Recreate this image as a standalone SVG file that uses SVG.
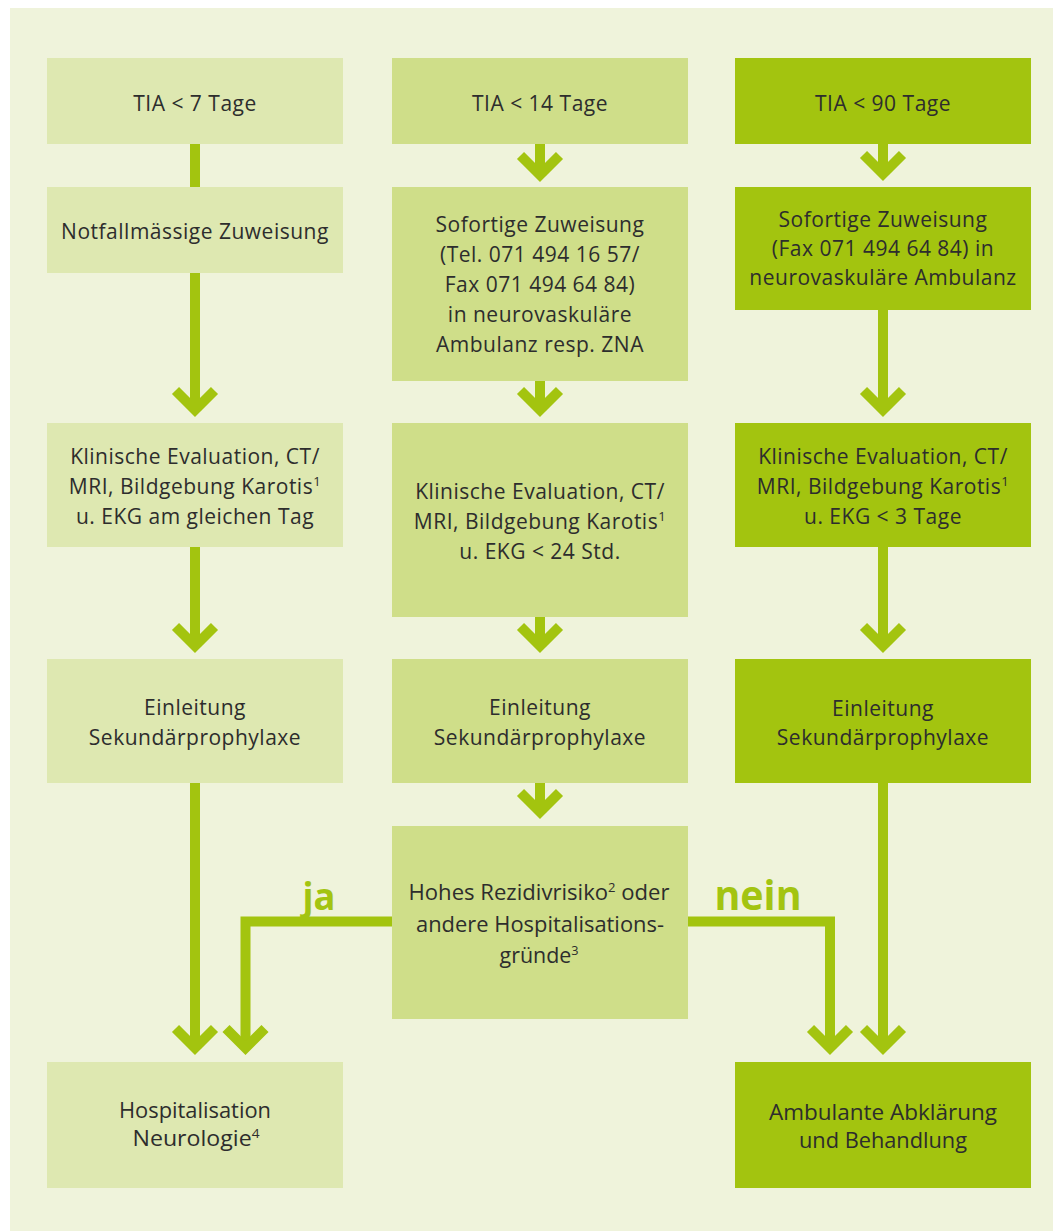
<svg xmlns="http://www.w3.org/2000/svg" width="1053" height="1231" viewBox="0 0 1053 1231">
<style>
.l{fill:#dee8b1}.m{fill:#cfde89}.d{fill:#a3c40f}
text{font-family:"Open Sans","Noto Sans",sans-serif;font-size:21px;fill:#2d2d2d;text-anchor:middle;letter-spacing:0.5px}
text.c{letter-spacing:0;font-size:22px}
text.lab{font-weight:bold;fill:#a3c411;letter-spacing:0}
text.ja{font-size:38px}
text.nein{font-size:42px}
.sup{font-size:13px}
.con{fill:none;stroke:#a3c40f;stroke-width:10;stroke-linejoin:miter}
.ar{marker-end:url(#chev)}
</style>
<defs>
<marker id="chev" markerUnits="userSpaceOnUse" orient="auto" overflow="visible" refX="0" refY="0" markerWidth="1" markerHeight="1">
<polyline points="-19.5,-19.5 0,0 -19.5,19.5" fill="none" stroke="#a3c40f" stroke-width="10" stroke-linejoin="miter"/>
</marker>
</defs>
<rect x="0" y="0" width="1053" height="1231" fill="#ffffff"/>
<rect x="10" y="8" width="1043" height="1223" fill="#eff3db"/>

<g id="connectors">
<path class="con" d="M195,144V187"/>
<path class="con ar" d="M195,273V410"/>
<path class="con ar" d="M195,547V646"/>
<path class="con ar" d="M195,783V1048"/>
<path class="con ar" d="M540,144V175"/>
<path class="con ar" d="M540,381V410"/>
<path class="con ar" d="M540,617V646"/>
<path class="con ar" d="M540,783V812"/>
<path class="con ar" d="M883,144V174"/>
<path class="con ar" d="M883,310V410"/>
<path class="con ar" d="M883,547V646"/>
<path class="con ar" d="M883,783V1048"/>
<path class="con ar" d="M392,921.5H245.5V1048"/>
<path class="con ar" d="M688,921.5H830V1048"/>
<text class="lab ja" x="319" y="910" textLength="33" lengthAdjust="spacingAndGlyphs">ja</text>
<text class="lab nein" x="758" y="910" textLength="87" lengthAdjust="spacingAndGlyphs">nein</text>
</g>

<g id="tia7"><rect class="l" x="47" y="58" width="296" height="86"/><text x="195" y="111">TIA &lt; 7 Tage</text></g>
<g id="tia14"><rect class="m" x="392" y="58" width="296" height="86"/><text x="540" y="111">TIA &lt; 14 Tage</text></g>
<g id="tia90"><rect class="d" x="735" y="58" width="296" height="86"/><text x="883" y="111">TIA &lt; 90 Tage</text></g>

<g id="notfall"><rect class="l" x="47" y="187" width="296" height="86"/><text x="195" y="239">Notfallmässige Zuweisung</text></g>
<g id="sofort14"><rect class="m" x="392" y="187" width="296" height="194"/>
<text x="540" y="232">Sofortige Zuweisung</text>
<text x="540" y="262">(Tel. 071 494 16 57/</text>
<text x="540" y="292">Fax 071 494 64 84)</text>
<text x="540" y="322">in neurovaskuläre</text>
<text x="540" y="352">Ambulanz resp. ZNA</text></g>
<g id="sofort90"><rect class="d" x="735" y="187" width="296" height="123"/>
<text x="883" y="227">Sofortige Zuweisung</text>
<text x="883" y="256">(Fax 071 494 64 84) in</text>
<text x="883" y="285">neurovaskuläre Ambulanz</text></g>

<g id="eval7"><rect class="l" x="47" y="423" width="296" height="124"/>
<text x="195" y="464">Klinische Evaluation, CT/</text>
<text x="195" y="494">MRI, Bildgebung Karotis<tspan class="sup" dy="-8">1</tspan></text>
<text x="195" y="524">u. EKG am gleichen Tag</text></g>
<g id="eval14"><rect class="m" x="392" y="423" width="296" height="194"/>
<text x="540" y="499">Klinische Evaluation, CT/</text>
<text x="540" y="529">MRI, Bildgebung Karotis<tspan class="sup" dy="-8">1</tspan></text>
<text x="540" y="559">u. EKG &lt; 24 Std.</text></g>
<g id="eval90"><rect class="d" x="735" y="423" width="296" height="124"/>
<text x="883" y="464">Klinische Evaluation, CT/</text>
<text x="883" y="494">MRI, Bildgebung Karotis<tspan class="sup" dy="-8">1</tspan></text>
<text x="883" y="524">u. EKG &lt; 3 Tage</text></g>

<g id="sek7"><rect class="l" x="47" y="659" width="296" height="124"/>
<text x="195" y="715">Einleitung</text>
<text x="195" y="745">Sekundärprophylaxe</text></g>
<g id="sek14"><rect class="m" x="392" y="659" width="296" height="124"/>
<text x="540" y="715">Einleitung</text>
<text x="540" y="745">Sekundärprophylaxe</text></g>
<g id="sek90"><rect class="d" x="735" y="659" width="296" height="124"/>
<text x="883" y="716">Einleitung</text>
<text x="883" y="745">Sekundärprophylaxe</text></g>

<g id="entscheid"><rect class="m" x="392" y="826" width="296" height="193"/>
<text class="c" x="539" y="900" textLength="261" lengthAdjust="spacingAndGlyphs">Hohes Rezidivrisiko<tspan class="sup" dy="-8">2</tspan><tspan dy="8"> oder</tspan></text>
<text class="c" x="540" y="931.5" textLength="248" lengthAdjust="spacingAndGlyphs">andere Hospitalisations-</text>
<text class="c" x="539" y="963" textLength="79" lengthAdjust="spacingAndGlyphs">gründe<tspan class="sup" dy="-8">3</tspan></text></g>

<g id="hosp"><rect class="l" x="47" y="1062" width="296" height="126"/>
<text class="c" x="195" y="1118" textLength="152" lengthAdjust="spacingAndGlyphs">Hospitalisation</text>
<text class="c" x="196" y="1146" textLength="127" lengthAdjust="spacingAndGlyphs">Neurologie<tspan class="sup" dy="-8">4</tspan></text></g>
<g id="ambulant"><rect class="d" x="735" y="1062" width="296" height="126"/>
<text class="c" x="883" y="1120" textLength="228" lengthAdjust="spacingAndGlyphs">Ambulante Abklärung</text>
<text class="c" x="883" y="1148" textLength="168" lengthAdjust="spacingAndGlyphs">und Behandlung</text></g>
</svg>
